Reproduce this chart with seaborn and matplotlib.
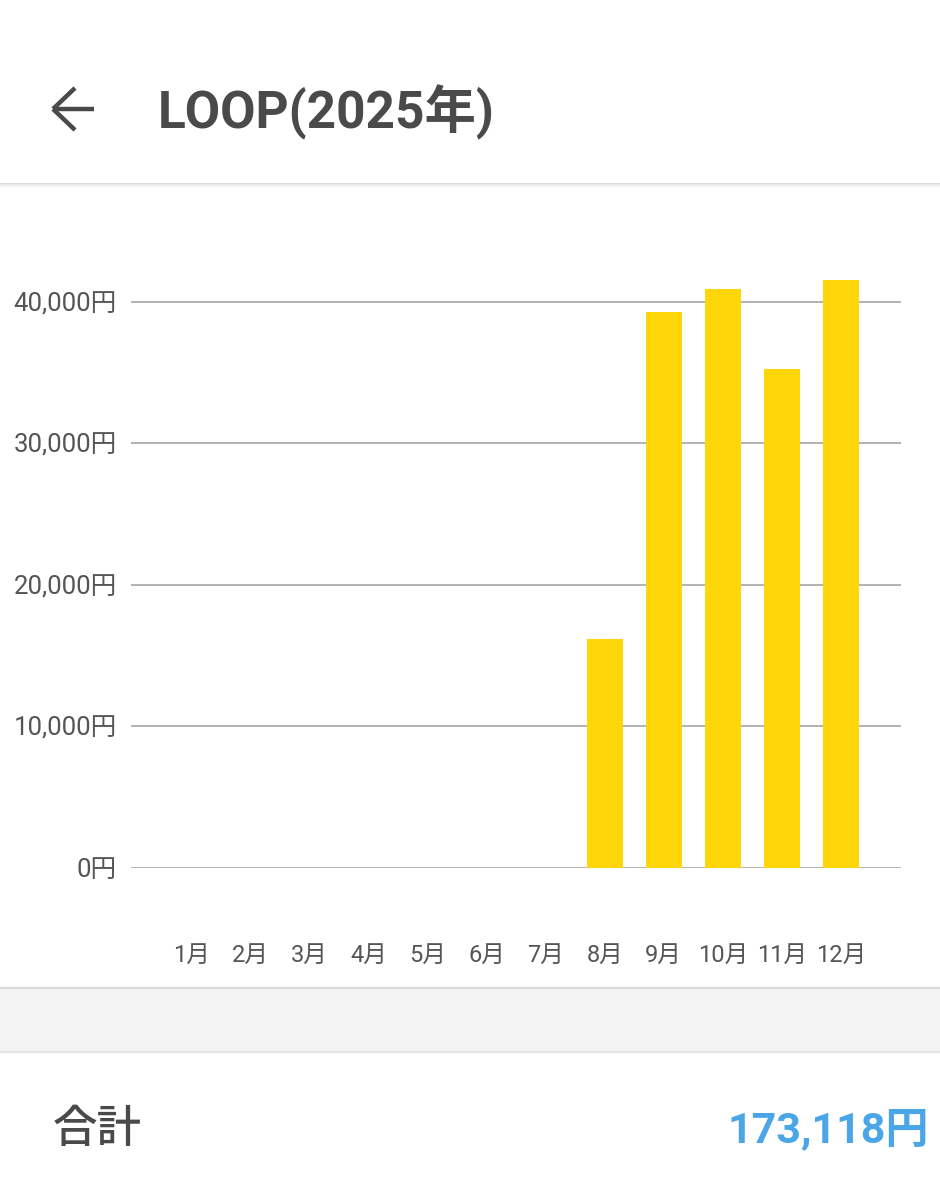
import matplotlib
matplotlib.use("Agg")
import matplotlib.pyplot as plt
from matplotlib.patches import Rectangle
from matplotlib.lines import Line2D
import seaborn as sns
import pandas as pd

# ---- data ----
months = ["1月", "2月", "3月", "4月", "5月", "6月", "7月", "8月", "9月", "10月", "11月", "12月"]
amounts = [0, 0, 0, 0, 0, 0, 0, 16140, 39300, 40925, 35240, 41513]
y_ticks = [0, 10000, 20000, 30000, 40000]
title_text = "LOOP(2025年)"
total_label = "合計"
total_text = "173,118円"

sns.set_theme(style="white")
FAM = ["Roboto", "Noto Sans CJK JP", "DejaVu Sans"]
plt.rcParams["font.family"] = FAM

W, H = 940, 1200
fig = plt.figure(figsize=(W / 100, H / 100), dpi=100)
fig.patch.set_facecolor("white")


def fy(py):
    return 1 - py / H


def fx(px):
    return px / W


# ---- header ----
fig.text(fx(158), fy(112), title_text, fontsize=37, fontweight="bold",
         color="#4a4a4a", ha="left", va="center", family=FAM)
arrow_col = "#4a4a4a"
for (x0, y0, x1, y1) in [(53, 109, 94, 109), (53, 109, 75, 88), (53, 109, 75, 130)]:
    fig.add_artist(Line2D([fx(x0), fx(x1)], [fy(y0), fy(y1)], color=arrow_col,
                          lw=3.2, solid_capstyle="butt", transform=fig.transFigure))
# header shadow
for i, c in enumerate(["#dcdcdc", "#e8e8e8", "#f0f0f0", "#f6f6f6", "#fafafa"]):
    fig.add_artist(Rectangle((0, fy(184 + i)), 1, 1 / H, color=c, lw=0,
                             transform=fig.transFigure))

# ---- grey band ----
fig.add_artist(Rectangle((0, fy(1052)), 1, (1052 - 987) / H, facecolor="#f4f4f4",
                         edgecolor="none", transform=fig.transFigure))
fig.add_artist(Line2D([0, 1], [fy(987.5), fy(987.5)], color="#dadada", lw=1.6,
                      transform=fig.transFigure))
fig.add_artist(Line2D([0, 1], [fy(1052), fy(1052)], color="#e2e2e2", lw=1.6,
                      transform=fig.transFigure))

# ---- total ----
fig.text(fx(53), fy(1130), total_label, fontsize=32, fontweight="medium",
         color="#4a4a4a", ha="left", va="center",
         family=["Noto Sans CJK JP", "DejaVu Sans"])
fig.text(fx(929), fy(1130), total_text, fontsize=31, fontweight="bold",
         color="#4aa6e6", ha="right", va="center", family=FAM)

# ---- chart ----
ymin, ymax = 0, 45000
y0px = 867.5
per = 141.45 / 10000
top_px = y0px - ymax * per
ax = fig.add_axes([fx(131), fy(y0px), fx(901) - fx(131), (y0px - top_px) / H])
df = pd.DataFrame({"month": months, "amount": amounts})
sns.barplot(data=df, x="month", y="amount", order=months, color="#FFD60A",
            saturation=1, width=0.6, linewidth=0, ax=ax)
ax.set_ylim(ymin, ymax)
ax.set_xlim(-1.03, 12.02)
ax.set_yticks(y_ticks)
ax.set_yticklabels([f"{v:,}円" for v in y_ticks])
ax.set_xlabel("")
ax.set_ylabel("")
ax.set_facecolor("none")
for s in ax.spines.values():
    s.set_visible(False)
ax.yaxis.grid(True, color="#a6a6a6", lw=1.2)
ax.xaxis.grid(False)
ax.set_axisbelow(True)
ax.tick_params(axis="y", length=0, pad=10, labelsize=18.5, labelcolor="#555555")
ax.tick_params(axis="x", length=0, pad=55, labelsize=17, labelcolor="#555555")
for lab in ax.get_xticklabels() + ax.get_yticklabels():
    lab.set_family(FAM)

fig.savefig("out.png", dpi=100, facecolor="white")
